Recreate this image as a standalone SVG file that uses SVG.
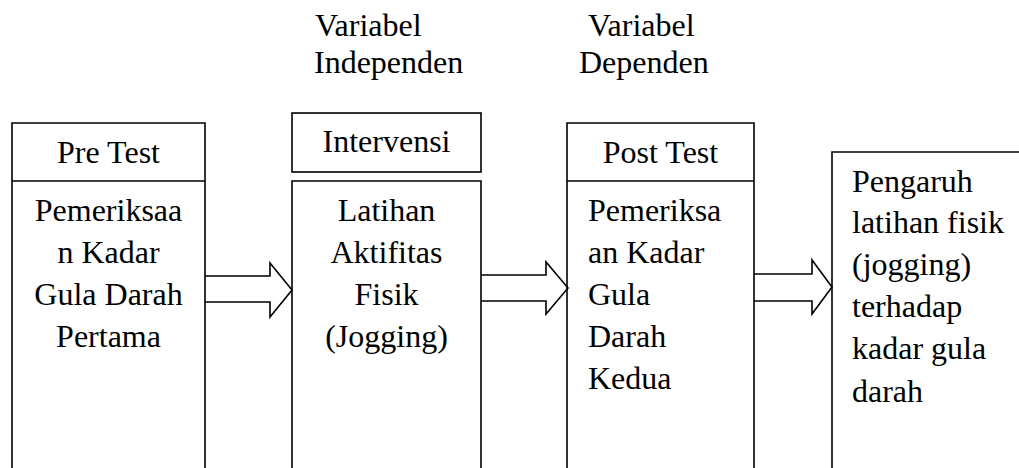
<svg xmlns="http://www.w3.org/2000/svg" width="1019" height="468" viewBox="0 0 1019 468">
<style>
.box{fill:none;stroke:#000;stroke-width:1.6}
.arr{fill:#fff;stroke:#000;stroke-width:1.6;stroke-linejoin:miter}
text{font-family:"Liberation Serif","Times New Roman",serif;font-size:32px;fill:#000}
.c{text-anchor:middle}
</style>
<rect width="1019" height="468" fill="#fff"/>
<g id="labels">
<text x="315" y="36">Variabel</text>
<text x="314" y="73">Independen</text>
<text x="588" y="36">Variabel</text>
<text x="579" y="73">Dependen</text>
</g>
<g id="connectors">
<path class="arr" d="M205,276 H270 V263 L292,290 L270,317 V302 H205"/>
<path class="arr" d="M481,275 H546 V262 L568,288 L546,314 V301 H481"/>
<path class="arr" d="M754,274 H812 V260 L832,287 L812,314 V301 H754"/>
</g>
<g id="pretest">
<path class="box" d="M12,468 V123 H205 V468"/>
<line class="box" x1="12" y1="181" x2="205" y2="181"/>
<text class="c" x="108.5" y="163">Pre Test</text>
<text class="c" x="108.5" y="221">Pemeriksaa</text>
<text class="c" x="108.5" y="263">n Kadar</text>
<text class="c" x="108.5" y="305">Gula Darah</text>
<text class="c" x="108.5" y="347">Pertama</text>
</g>
<g id="intervensi">
<rect class="box" x="292" y="113" width="189" height="59"/>
<text class="c" x="386.5" y="152">Intervensi</text>
</g>
<g id="latihan">
<path class="box" d="M292,468 V181 H481 V468"/>
<text class="c" x="386.5" y="221">Latihan</text>
<text class="c" x="386.5" y="263">Aktifitas</text>
<text class="c" x="386.5" y="305">Fisik</text>
<text class="c" x="386.5" y="347">(Jogging)</text>
</g>
<g id="posttest">
<path class="box" d="M567,468 V123 H754 V468"/>
<line class="box" x1="567" y1="181" x2="754" y2="181"/>
<text class="c" x="660.5" y="163">Post Test</text>
<text x="588" y="221">Pemeriksa</text>
<text x="588" y="263">an Kadar</text>
<text x="588" y="305">Gula</text>
<text x="588" y="347">Darah</text>
<text x="588" y="389">Kedua</text>
</g>
<g id="pengaruh">
<path class="box" d="M832,468 V152 H1019"/>
<text x="852" y="192">Pengaruh</text>
<text x="852" y="233">latihan fisik</text>
<text x="852" y="275">(jogging)</text>
<text x="852" y="317">terhadap</text>
<text x="852" y="359">kadar gula</text>
<text x="852" y="402">darah</text>
</g>
</svg>
